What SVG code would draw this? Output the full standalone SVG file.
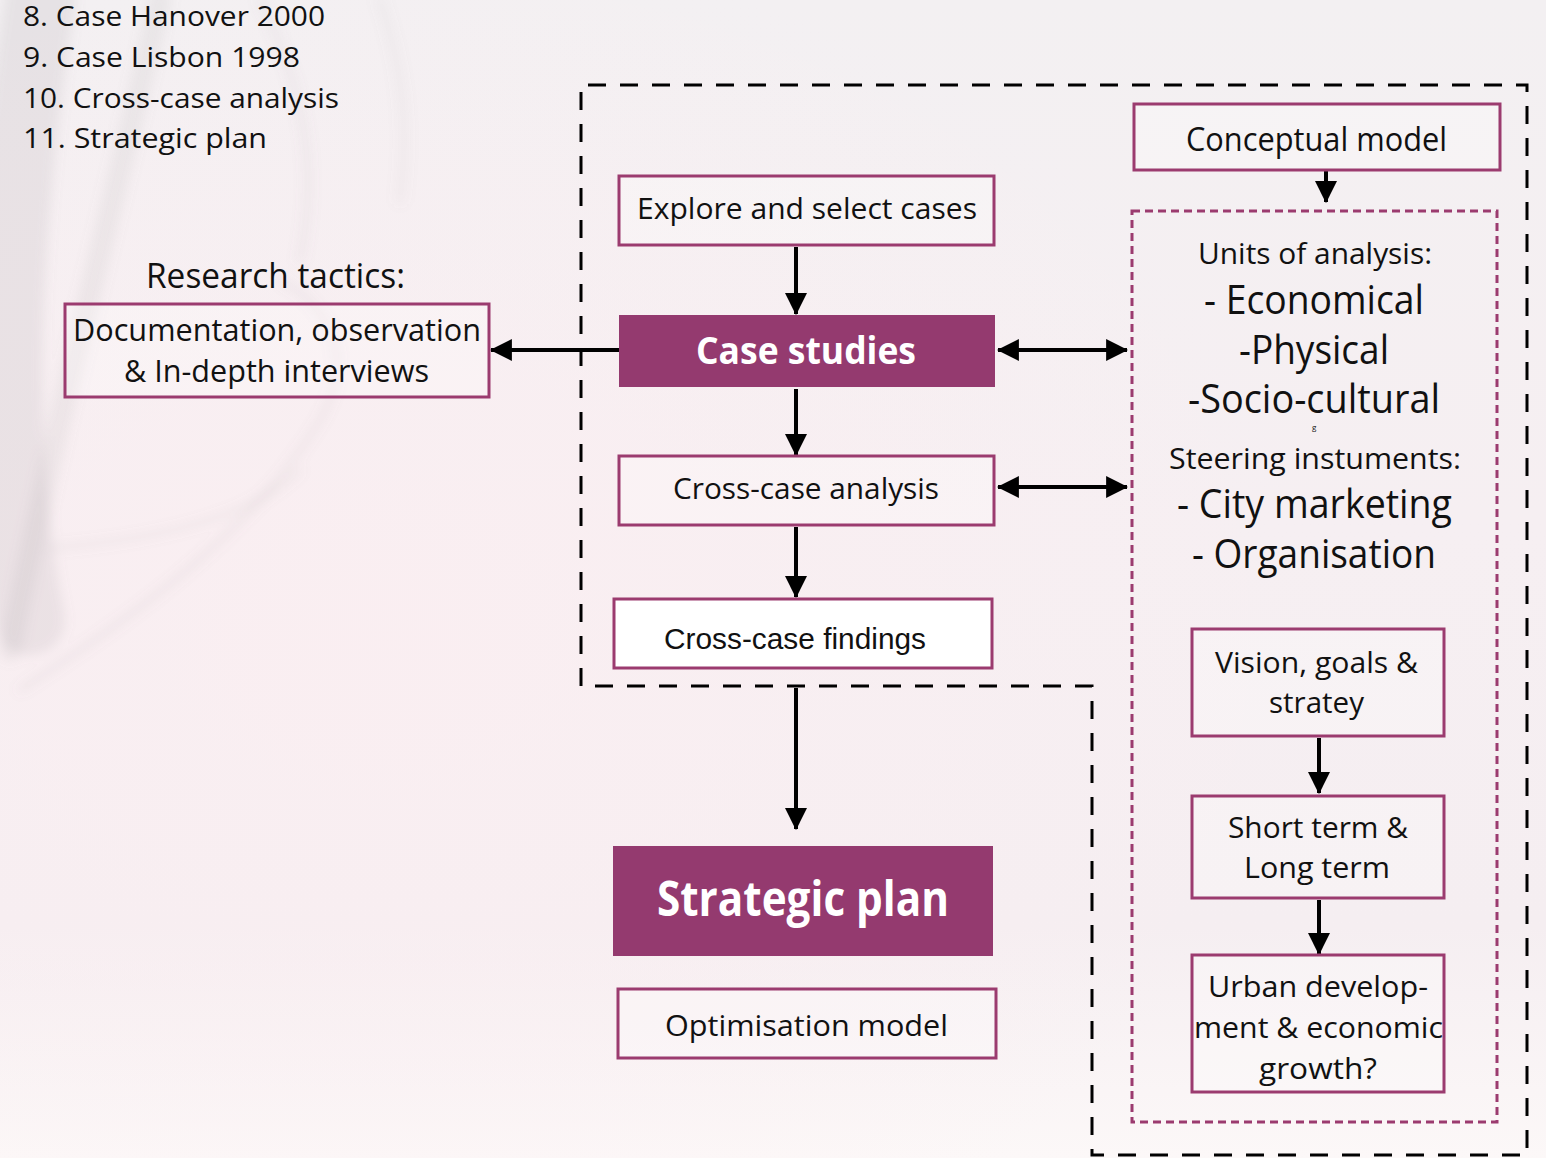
<svg xmlns="http://www.w3.org/2000/svg" width="1546" height="1158" viewBox="0 0 1546 1158">
  <defs>
    <linearGradient id="bg" x1="0" y1="0" x2="0" y2="1">
      <stop offset="0" stop-color="#f3f0f2"/>
      <stop offset="0.45" stop-color="#f6eff2"/>
      <stop offset="0.8" stop-color="#f5eef1"/>
      <stop offset="1" stop-color="#fcf8f8"/>
    </linearGradient>
    <radialGradient id="blush" cx="0.25" cy="0.55" r="0.6">
      <stop offset="0" stop-color="#fbeef1" stop-opacity="0.8"/>
      <stop offset="1" stop-color="#fbeef1" stop-opacity="0"/>
    </radialGradient>
    <filter id="soft" x="-20%" y="-20%" width="140%" height="140%">
      <feGaussianBlur stdDeviation="6"/>
    </filter>
    <marker id="head" viewBox="0 0 10 10" refX="9.5" refY="5" markerWidth="5.5" markerHeight="5.5" orient="auto-start-reverse" markerUnits="strokeWidth">
      <path d="M0,0 L10,5 L0,10 Z" fill="#000"/>
    </marker>
  </defs>
  <style>
    text { font-family: "Open Sans", "Noto Sans", "Liberation Sans", sans-serif; fill: #111; }
    .box { fill: #ffffff; fill-opacity: 0.25; stroke: #9b3b6f; stroke-width: 3; }
    .white { fill: #ffffff; fill-opacity: 1; }
    .solid { fill: #943a6f; stroke: none; }
    .label { font-size: 30px; }
    .big { font-size: 40px; }
    .head-w { fill: #ffffff; font-weight: bold; }
    .link { stroke: #000; stroke-width: 4; fill: none; marker-end: url(#head); }
    .both { marker-start: url(#head); }
    .frame { fill: none; stroke: #000; stroke-width: 3; stroke-dasharray: 18 14; }
    .inner { fill: none; stroke: #9b3b6f; stroke-width: 3; stroke-dasharray: 8 5; }
  </style>

  <!-- backdrop -->
  <rect width="1546" height="1158" fill="url(#bg)"/>
  <rect width="1546" height="1158" fill="url(#blush)"/>
  <g filter="url(#soft)" fill="none" stroke="#8a8588" stroke-linecap="round">
    <path d="M40,0 C10,200 -10,420 30,620" stroke-width="70" stroke-opacity="0.13"/>
    <path d="M160,0 C120,180 60,400 10,650" stroke-width="22" stroke-opacity="0.1"/>
    <path d="M20,690 C160,600 260,520 320,420 C360,350 320,300 280,280" stroke-width="5" stroke-opacity="0.12"/>
    <path d="M50,548 C150,540 250,520 300,470" stroke-width="5" stroke-opacity="0.1"/>
    <path d="M260,0 C300,80 320,160 300,260" stroke-width="8" stroke-opacity="0.08"/>
    <path d="M380,0 C400,60 410,120 400,200" stroke-width="10" stroke-opacity="0.06"/>
  </g>

  <!-- chapter list -->
  <g id="chapter-list" style="font-size:28px">
    <text x="23" y="26" textLength="302" lengthAdjust="spacingAndGlyphs">8. Case Hanover 2000</text>
    <text x="23" y="67" textLength="277" lengthAdjust="spacingAndGlyphs">9. Case Lisbon 1998</text>
    <text x="23" y="108" textLength="316" lengthAdjust="spacingAndGlyphs">10. Cross-case analysis</text>
    <text x="23" y="148" textLength="244" lengthAdjust="spacingAndGlyphs">11. Strategic plan</text>
  </g>

  <!-- dashed frames -->
  <g id="frames">
    <path class="frame" d="M581,686 L581,85 L1527,85 L1527,1155 L1092,1155 L1092,686 Z"/>
    <rect class="inner" x="1132" y="211" width="365" height="911"/>
  </g>

  <!-- connectors -->
  <g id="connectors">
    <line class="link" x1="796" y1="247" x2="796" y2="314"/>
    <line class="link" x1="796" y1="389" x2="796" y2="455"/>
    <line class="link" x1="796" y1="527" x2="796" y2="597"/>
    <line class="link" x1="796" y1="688" x2="796" y2="829"/>
    <line class="link" x1="619" y1="350" x2="491" y2="350"/>
    <line class="link both" x1="998" y1="350" x2="1127" y2="350"/>
    <line class="link both" x1="998" y1="487" x2="1127" y2="487"/>
    <line class="link" x1="1326" y1="171" x2="1326" y2="202"/>
    <line class="link" x1="1319" y1="738" x2="1319" y2="793"/>
    <line class="link" x1="1319" y1="900" x2="1319" y2="954"/>
  </g>

  <!-- research tactics -->
  <g id="research-tactics">
    <text x="146" y="288" style="font-size:34px" textLength="259" lengthAdjust="spacingAndGlyphs">Research tactics:</text>
    <rect class="box" x="65" y="304" width="424" height="93"/>
    <text x="73" y="341" style="font-size:31px" textLength="408" lengthAdjust="spacingAndGlyphs">Documentation, observation</text>
    <text x="124" y="382" style="font-size:31px" textLength="305" lengthAdjust="spacingAndGlyphs">&amp; In-depth interviews</text>
  </g>

  <g id="explore">
    <rect class="box" x="619" y="176" width="375" height="69"/>
    <text class="label" x="637" y="219" textLength="340" lengthAdjust="spacingAndGlyphs">Explore and select cases</text>
  </g>

  <g id="case-studies">
    <rect class="solid" x="619" y="315" width="376" height="72"/>
    <text class="head-w" x="696" y="364" style="font-size:37px" textLength="220" lengthAdjust="spacingAndGlyphs">Case studies</text>
  </g>

  <g id="cross-case-analysis">
    <rect class="box" x="619" y="456" width="375" height="69"/>
    <text class="label" x="673" y="499" textLength="266" lengthAdjust="spacingAndGlyphs">Cross-case analysis</text>
  </g>

  <g id="cross-case-findings">
    <rect class="box white" x="614" y="599" width="378" height="69"/>
    <text x="664" y="649" style="font-size:30px; font-family:'Liberation Sans','Open Sans',sans-serif" textLength="262" lengthAdjust="spacingAndGlyphs">Cross-case findings</text>
  </g>

  <g id="strategic-plan">
    <rect class="solid" x="613" y="846" width="380" height="110"/>
    <text class="head-w" x="657" y="916" style="font-size:48px" textLength="292" lengthAdjust="spacingAndGlyphs">Strategic plan</text>
  </g>

  <g id="optimisation-model">
    <rect class="box" x="618" y="989" width="378" height="69"/>
    <text class="label" x="665" y="1036" textLength="283" lengthAdjust="spacingAndGlyphs">Optimisation model</text>
  </g>

  <g id="conceptual-model">
    <rect class="box" x="1134" y="104" width="366" height="66"/>
    <text x="1186" y="151" style="font-size:32px" textLength="261" lengthAdjust="spacingAndGlyphs">Conceptual model</text>
  </g>

  <!-- contents of the analysis frame -->
  <g id="units-of-analysis">
    <text class="label" x="1198" y="264" textLength="234" lengthAdjust="spacingAndGlyphs">Units of analysis:</text>
    <text class="big" x="1204" y="314" textLength="220" lengthAdjust="spacingAndGlyphs">- Economical</text>
    <text class="big" x="1239" y="364" textLength="150" lengthAdjust="spacingAndGlyphs">-Physical</text>
    <text class="big" x="1188" y="413" textLength="252" lengthAdjust="spacingAndGlyphs">-Socio-cultural</text>
    <text x="1312" y="430" style="font-size:8px">g</text>
  </g>

  <g id="steering-instruments">
    <text class="label" x="1169" y="469" textLength="292" lengthAdjust="spacingAndGlyphs">Steering instuments:</text>
    <text class="big" x="1177" y="518" textLength="275" lengthAdjust="spacingAndGlyphs">- City marketing</text>
    <text class="big" x="1192" y="568" textLength="244" lengthAdjust="spacingAndGlyphs">- Organisation</text>
  </g>

  <g id="vision">
    <rect class="box" x="1192" y="629" width="252" height="107"/>
    <text class="label" x="1215" y="673" textLength="203" lengthAdjust="spacingAndGlyphs">Vision, goals &amp;</text>
    <text class="label" x="1269" y="713" textLength="95" lengthAdjust="spacingAndGlyphs">stratey</text>
  </g>

  <g id="short-long-term">
    <rect class="box" x="1192" y="796" width="252" height="102"/>
    <text class="label" x="1228" y="838" textLength="180" lengthAdjust="spacingAndGlyphs">Short term &amp;</text>
    <text class="label" x="1244" y="878" textLength="146" lengthAdjust="spacingAndGlyphs">Long term</text>
  </g>

  <g id="urban-development">
    <rect class="box" x="1192" y="955" width="252" height="137"/>
    <text class="label" x="1208" y="997" textLength="220" lengthAdjust="spacingAndGlyphs">Urban develop-</text>
    <text class="label" x="1194" y="1038" textLength="249" lengthAdjust="spacingAndGlyphs">ment &amp; economic</text>
    <text class="label" x="1259" y="1079" textLength="118" lengthAdjust="spacingAndGlyphs">growth?</text>
  </g>
</svg>
